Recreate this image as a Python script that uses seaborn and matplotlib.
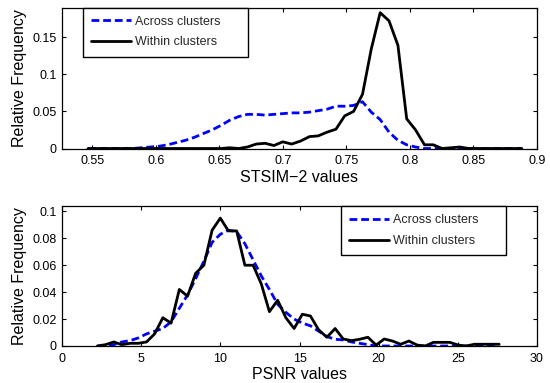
import numpy as np
import pandas as pd
import matplotlib
matplotlib.use("Agg")
import matplotlib.pyplot as plt
from matplotlib.offsetbox import HPacker, DrawingArea
import seaborn as sns

# ---------------- data ----------------
stsim_x = [0.5465, 0.5535, 0.5604, 0.5674, 0.5744, 0.5814, 0.5883, 0.5953, 0.6023, 0.6092,
           0.6162, 0.6232, 0.6301, 0.6371, 0.6441, 0.6510, 0.6580, 0.6650, 0.6720, 0.6789,
           0.6859, 0.6929, 0.6998, 0.7068, 0.7138, 0.7208, 0.7277, 0.7347, 0.7417, 0.7486,
           0.7556, 0.7626, 0.7695, 0.7765, 0.7835, 0.7905, 0.7974, 0.8044, 0.8114, 0.8183,
           0.8253, 0.8323, 0.8392, 0.8462, 0.8532, 0.8602, 0.8671, 0.8741, 0.8811, 0.8880]
stsim_across = [0, 0, 0, 0, 0, 0, 0.001, 0.002, 0.003, 0.005,
                0.008, 0.011, 0.015, 0.020, 0.025, 0.031, 0.038, 0.043, 0.046, 0.046,
                0.045, 0.046, 0.047, 0.048, 0.048, 0.049, 0.051, 0.053, 0.057, 0.057,
                0.058, 0.063, 0.049, 0.039, 0.022, 0.011, 0.005, 0.002, 0, 0,
                0, 0, 0, 0, 0, 0, 0, 0, 0, 0]
stsim_within = [0, 0, 0, 0, 0, 0, 0, 0, 0, 0,
                0, 0, 0, 0, 0, 0.000, 0.001, 0.000, 0.002, 0.006,
                0.007, 0.004, 0.009, 0.006, 0.010, 0.016, 0.017, 0.022, 0.026, 0.044,
                0.050, 0.073, 0.134, 0.183, 0.172, 0.139, 0.040, 0.025, 0.005, 0.005,
                0.000, 0.001, 0.002, 0, 0, 0, 0, 0, 0, 0]

psnr_x = [2.23, 2.75, 3.27, 3.78, 4.30, 4.82, 5.34, 5.85, 6.37, 6.89,
          7.41, 7.93, 8.44, 8.96, 9.48, 10.00, 10.51, 11.03, 11.55, 12.07,
          12.59, 13.10, 13.62, 14.14, 14.66, 15.18, 15.69, 16.21, 16.73, 17.25,
          17.76, 18.28, 18.80, 19.32, 19.84, 20.35, 20.87, 21.39, 21.91, 22.43,
          22.94, 23.46, 23.98, 24.50, 25.02, 25.53, 26.05, 26.57, 27.09, 27.61]
psnr_across = [0, 0.000, 0.001, 0.003, 0.004, 0.006, 0.009, 0.011, 0.013, 0.018,
               0.028, 0.038, 0.050, 0.063, 0.077, 0.083, 0.086, 0.085, 0.076, 0.064,
               0.052, 0.042, 0.031, 0.025, 0.020, 0.017, 0.015, 0.011, 0.007, 0.005,
               0.0045, 0.003, 0.002, 0.001, 0, 0, 0, 0, 0, 0,
               0, 0, 0, 0, 0, 0, 0, 0, 0, 0]
psnr_within = [0, 0.001, 0.003, 0.001, 0.002, 0.002, 0.003, 0.009, 0.021, 0.017,
               0.042, 0.037, 0.054, 0.060, 0.086, 0.095, 0.0855, 0.0855, 0.060, 0.060,
               0.046, 0.0255, 0.034, 0.021, 0.013, 0.0236, 0.0223, 0.012, 0.0065, 0.013,
               0.0052, 0.004, 0.005, 0.0065, 0.0007, 0.0052, 0.0037, 0.0013, 0.0037, 0.0007,
               0.0, 0.0027, 0.0027, 0.0027, 0.0007, 0.0, 0.0013, 0.0013, 0.0013, 0.0013]

series_labels = ["Across clusters", "Within clusters"]
xlabels = ["STSIM\u22122 values", "PSNR values"]
ylabel = "Relative Frequency"
top_xticks = [0.55, 0.6, 0.65, 0.7, 0.75, 0.8, 0.85, 0.9]
top_yticks = [0, 0.05, 0.1, 0.15]
bot_xticks = [0, 5, 10, 15, 20, 25, 30]
bot_yticks = [0, 0.02, 0.04, 0.06, 0.08, 0.1]

# ---------------- style ----------------
sns.set_theme(style="ticks")
plt.rcParams["font.family"] = ["Liberation Sans", "DejaVu Sans"]
plt.rcParams.update({
    "axes.edgecolor": "black",
    "axes.linewidth": 0.9,
    "xtick.direction": "in",
    "ytick.direction": "in",
    "xtick.top": True,
    "ytick.right": True,
    "xtick.major.size": 3.2,
    "ytick.major.size": 3.2,
    "xtick.major.width": 0.8,
    "ytick.major.width": 0.8,
    "xtick.labelsize": 9,
    "ytick.labelsize": 9,
    "xtick.major.pad": 5,
    "ytick.major.pad": 4,
    "xtick.color": "black",
    "ytick.color": "black",
})

fig = plt.figure(figsize=(5.5, 3.83), dpi=100)
W, H = 550.0, 383.0
ax1 = fig.add_axes([62 / W, 1 - 148.5 / H, 475 / W, 141 / H])
ax2 = fig.add_axes([62 / W, 1 - 346 / H, 475 / W, 140 / H])

dash = (0, (2.8, 1.4))
lw = 2.0


def fmt(v):
    return "%g" % v


def draw(ax, x, across, within, xlim, ylim, xticks, yticks, xlabel, loc, anchor):
    df = pd.DataFrame({"x": x, "across": across, "within": within})
    sns.lineplot(data=df, x="x", y="across", ax=ax, color=(0, 0, 1), linewidth=lw,
                 linestyle=dash, label=series_labels[0], sort=False)
    sns.lineplot(data=df, x="x", y="within", ax=ax, color="black", linewidth=lw,
                 label=series_labels[1], sort=False)
    ax.set_xlim(*xlim)
    ax.set_ylim(*ylim)
    ax.set_xticks(xticks)
    ax.set_xticklabels([fmt(v) for v in xticks])
    ax.set_yticks(yticks)
    ax.set_yticklabels([fmt(v) for v in yticks])
    ax.set_xlabel(xlabel, fontsize=11.5, labelpad=1.5, color="black")
    ax.set_ylabel(ylabel, fontsize=11.5, labelpad=4, color="black")
    for s in ax.spines.values():
        s.set_visible(True)
        s.set_color("black")
    leg = ax.legend(loc=loc, bbox_to_anchor=anchor, fontsize=9, frameon=True,
                    fancybox=False, framealpha=1, edgecolor="black",
                    handlelength=3.2, handletextpad=0.35, labelspacing=0.7,
                    borderpad=0.65, borderaxespad=0.0)
    leg.get_frame().set_linewidth(1.0)
    # extra right-hand padding inside the legend box (MATLAB style)
    try:
        hb = leg._legend_handle_box
        spacer = DrawingArea(14, 1)
        newbox = HPacker(pad=0, sep=0, children=[hb, spacer])
        kids = leg._legend_box._children
        idx = kids.index(hb)
        kids[idx] = newbox
        leg._legend_box.set_figure(fig)
        newbox.set_figure(fig)
        spacer.set_figure(fig)
    except Exception:
        pass


draw(ax1, stsim_x, stsim_across, stsim_within, (0.526, 0.9), (0, 0.19),
     top_xticks, top_yticks, xlabels[0], "upper left", (0.044, 1.0))
draw(ax2, psnr_x, psnr_across, psnr_within, (0, 30), (0, 0.104),
     bot_xticks, bot_yticks, xlabels[1], "upper right", (0.935, 1.0))

fig.savefig("out.png", dpi=100)
